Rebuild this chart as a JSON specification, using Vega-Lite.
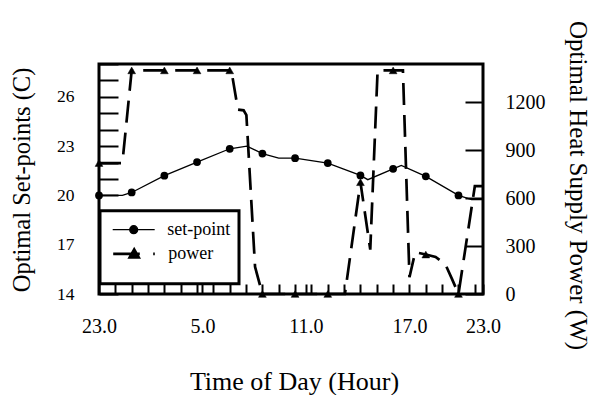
{
  "$schema": "https://vega.github.io/schema/vega-lite/v6.json",
  "width": 384,
  "height": 230,
  "autosize": {"type": "none"},
  "padding": {"left": 99, "top": 64, "right": 109, "bottom": 101},
  "background": "white",
  "datasets": {
    "sp": [
      {"t": 0, "v": 20.0}, {"t": 1.43, "v": 20.0}, {"t": 2, "v": 20.18}, {"t": 4, "v": 21.2},
      {"t": 6, "v": 22.03}, {"t": 8, "v": 22.84}, {"t": 9.05, "v": 23.0}, {"t": 10, "v": 22.55},
      {"t": 11, "v": 22.27}, {"t": 12, "v": 22.27}, {"t": 14, "v": 21.97}, {"t": 16, "v": 21.22},
      {"t": 16.45, "v": 20.96}, {"t": 18, "v": 21.62}, {"t": 18.5, "v": 21.83}, {"t": 20, "v": 21.16},
      {"t": 22, "v": 20.0}, {"t": 22.8, "v": 19.75}, {"t": 23.5, "v": 19.75}
    ],
    "pw": [
      {"t": 0, "p": 820}, {"t": 1.43, "p": 820}, {"t": 2, "p": 1400}, {"t": 4, "p": 1400},
      {"t": 6, "p": 1400}, {"t": 8, "p": 1400}, {"t": 8.1, "p": 1400}, {"t": 8.5, "p": 1155},
      {"t": 8.85, "p": 1150}, {"t": 9.02, "p": 1120}, {"t": 9.55, "p": 170}, {"t": 10, "p": 0},
      {"t": 12, "p": 0}, {"t": 14, "p": 0}, {"t": 15.05, "p": 0}, {"t": 16, "p": 700},
      {"t": 16.6, "p": 278}, {"t": 17.05, "p": 1400}, {"t": 18, "p": 1400}, {"t": 18.6, "p": 1400},
      {"t": 19.0, "p": 105}, {"t": 19.35, "p": 262}, {"t": 20, "p": 247}, {"t": 20.6, "p": 232},
      {"t": 21.2, "p": 185}, {"t": 21.6, "p": 95}, {"t": 22, "p": 0}, {"t": 23.0, "p": 675},
      {"t": 23.5, "p": 675}
    ]
  },
  "encoding": {
    "x": {
      "field": "t",
      "type": "quantitative",
      "scale": {"domain": [0, 23.5], "nice": false, "zero": false},
      "axis": {
        "values": [0, 1, 2, 3, 4, 5, 6, 7, 8, 9, 10, 11, 12, 13, 14, 15, 16, 17, 18, 19, 20, 21, 22, 23, 6.333, 12.667, 23.5],
        "labelExpr": "datum.value === 0 ? '23.0' : datum.value === 6.333 ? '5.0' : datum.value === 12.667 ? '11.0' : datum.value === 19 ? '17.0' : datum.value === 23.5 ? '23.0' : ''",
        "tickSize": -10,
        "tickWidth": 2,
        "labelPadding": 48,
        "labelBaseline": "alphabetic",
        "labelFontSize": 20,
        "labelFlush": false,
        "labelOverlap": false,
        "labelBound": false,
        "title": "Time of Day (Hour)",
        "titleFontSize": 26,
        "titleX": 195,
        "titleY": 95,
        "titleBaseline": "alphabetic",
        "titleAlign": "center",
        "encode": {
          "ticks": {
            "update": {
              "y2": {"signal": "datum.value % 3 === 0 ? -18 : -10"},
              "strokeOpacity": {"signal": "datum.value % 1 === 0 ? 1 : 0"}
            }
          }
        }
      }
    }
  },
  "layer": [
    {
      "data": {"name": "sp"},
      "encoding": {
        "y": {
          "field": "v",
          "type": "quantitative",
          "scale": {"domain": [14, 28], "nice": false, "zero": false},
          "axis": {
            "orient": "left",
            "values": [14, 15, 16, 17, 18, 19, 20, 21, 22, 23, 24, 25, 26, 27, 28],
            "labelExpr": "datum.value % 3 === 2 ? datum.label : ''",
            "tickSize": -19,
            "tickWidth": 2,
            "labelPadding": 44,
            "labelFontSize": 17.5,
            "labelOverlap": false,
            "title": "Optimal Set-points (C)",
            "titleFontSize": 24.5,
            "titleAngle": -90,
            "titleX": -70,
            "titleY": 115.5,
            "titleBaseline": "alphabetic",
            "titleAlign": "center"
          }
        }
      },
      "layer": [
        {"mark": {"type": "line", "color": "black", "strokeWidth": 1.3}},
        {
          "transform": [{"filter": "datum.t % 2 === 0"}],
          "mark": {"type": "point", "shape": "circle", "filled": true, "size": 60, "opacity": 1},
          "encoding": {
            "color": {
              "datum": "set-point",
              "type": "nominal",
              "scale": {"domain": ["set-point"], "range": ["black"]},
              "legend": {
                "orient": "none",
                "legendX": 1,
                "legendY": 146.7,
                "direction": "vertical",
                "title": "\u00a0\u00a0\u00a0\u00a0\u00a0\u00a0\u00a0\u00a0\u00a0\u00a0\u00a0\u00a0\u00a0\u00a0\u00a0\u00a0\u00a0\u00a0\u00a0\u00a0",
                "titleOrient": "bottom",
                "titleFontSize": 26,
                "titlePadding": 11,
                "titleLimit": 400,
                "padding": 8,
                "strokeColor": "black",
                "fillColor": "white",
                "symbolType": "M-2.1,0H2.1M-0.4,0A0.4,0.4,0,1,0,0.4,0A0.4,0.4,0,1,0,-0.4,0Z",
                "symbolSize": 400,
                "symbolStrokeWidth": 1.2,
                "symbolStrokeColor": "black",
                "symbolFillColor": "black",
                "symbolOpacity": 1,
                "symbolOffset": 14.7,
                "labelOffset": 22.5,
                "labelFontSize": 18,
                "labelColor": "black"
              }
            }
          }
        }
      ]
    },
    {
      "data": {"name": "pw"},
      "encoding": {
        "y": {
          "field": "p",
          "type": "quantitative",
          "scale": {"domain": [0, 1440], "nice": false, "zero": false},
          "axis": {
            "orient": "right",
            "values": [0, 300, 600, 900, 1200],
            "format": "d",
            "tickSize": -18,
            "tickWidth": 2,
            "labelPadding": 40,
            "labelFontSize": 20,
            "labelOverlap": false,
            "title": "Optimal Heat Supply Power (W)",
            "titleFontSize": 25,
            "titleAngle": 90,
            "titleX": 86,
            "titleY": 121,
            "titleBaseline": "alphabetic",
            "titleAlign": "center"
          }
        }
      },
      "layer": [
        {"mark": {"type": "line", "color": "black", "strokeWidth": 2.7, "strokeDash": [22, 10]}},
        {
          "transform": [{"filter": "datum.t % 2 === 0"}],
          "mark": {"type": "point", "shape": "triangle-up", "filled": true, "color": "black", "size": 60, "strokeWidth": 0.5, "opacity": 1},
          "encoding": {
            "stroke": {
              "datum": "power",
              "type": "nominal",
              "scale": {"domain": ["power"], "range": ["black"]},
              "legend": {
                "orient": "none",
                "legendX": 1,
                "legendY": 170.4,
                "direction": "vertical",
                "title": null,
                "padding": 8,
                "strokeColor": "transparent",
                "fillColor": "transparent",
                "symbolType": "M-2.1,0H0.56M1.9,0H2.06M-0.45,0.35L0.45,0.35L0,-0.45Z",
                "symbolSize": 400,
                "symbolStrokeWidth": 2.7,
                "symbolStrokeColor": "black",
                "symbolFillColor": "black",
                "symbolOpacity": 1,
                "symbolOffset": 14.7,
                "labelOffset": 22.5,
                "labelFontSize": 18,
                "labelColor": "black"
              }
            }
          }
        }
      ]
    }
  ],
  "resolve": {"scale": {"y": "independent"}},
  "config": {
    "font": "Liberation Serif",
    "view": {"stroke": "black", "strokeWidth": 3},
    "axis": {
      "domain": false,
      "grid": false,
      "labelColor": "black",
      "titleColor": "black",
      "tickColor": "black",
      "titleFontWeight": "normal",
      "labelFont": "Liberation Serif",
      "titleFont": "Liberation Serif"
    },
    "legend": {"labelFont": "Liberation Serif", "titleFont": "Liberation Serif", "strokeWidth": 3}
  }
}
